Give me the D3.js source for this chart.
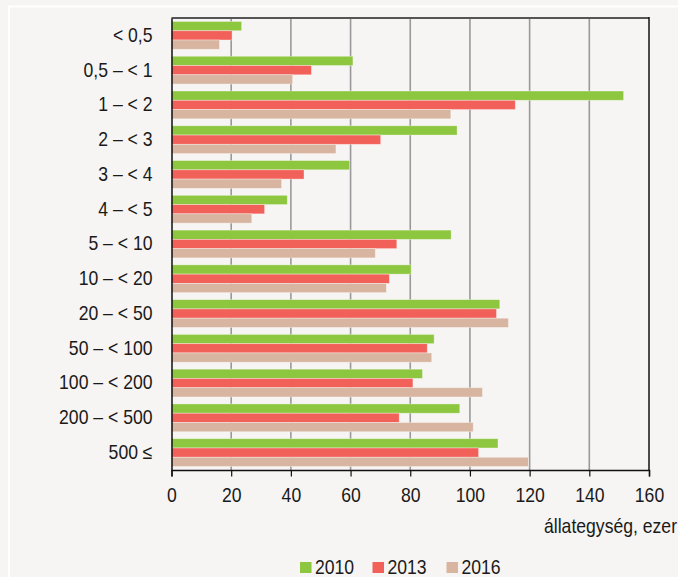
<!DOCTYPE html>
<html>
<head>
<meta charset="utf-8">
<script src="https://cdn.jsdelivr.net/npm/d3@7"></script>
<style>
  body { margin: 0; background: #f6f5f3; }
  svg { display: block; }
  text { font-family: "Liberation Sans", Arial, sans-serif; fill: #1a1a1a; }
</style>
</head>
<body>
<div id="chart"></div>
<script>
const width = 678,
    height = 577,
    margin = { top: 18, right: 29, bottom: 107, left: 171.5 },
    squeeze = 0.88; // keskeny betű utánzása

// adatok
const categories = ["< 0,5", "0,5 – < 1", "1 – < 2", "2 – < 3", "3 – < 4", "4 – < 5", "5 – < 10",
    "10 – < 20", "20 – < 50", "50 – < 100", "100 – < 200", "200 – < 500", "500 ≤"];
const years = ["2010", "2013", "2016"];
const values2010 = [23.5, 60.8, 151.5, 95.7, 59.7, 38.8, 93.7, 80.3, 110.0, 88.0, 84.1, 96.6, 109.4];
const values2013 = [20.3, 46.9, 115.2, 70.1, 44.4, 31.2, 75.5, 73.0, 108.9, 85.7, 80.9, 76.3, 102.9];
const values2016 = [16.1, 40.6, 93.6, 55.1, 36.9, 26.9, 68.3, 72.0, 112.9, 87.2, 104.2, 101.1, 119.6];
const xTicks = [0, 20, 40, 60, 80, 100, 120, 140, 160];
const colors = ["#8dc63f", "#f26159", "#d7b5a0"];

const series = [values2010, values2013, values2016];

const svg = d3.select("#chart")
    .append("svg")
    .attr("width", width)
    .attr("height", height);

// keret
svg.append("rect")
    .attr("x", 0).attr("y", 0)
    .attr("width", width).attr("height", height)
    .style("fill", "#f6f5f3");
svg.append("line")
    .attr("x1", 8).attr("x2", width).attr("y1", 6.5).attr("y2", 6.5)
    .style("stroke", "#fff").style("stroke-width", 2);
svg.append("line")
    .attr("x1", 9).attr("x2", 9).attr("y1", 6).attr("y2", height)
    .style("stroke", "#fff").style("stroke-width", 2);

const x = d3.scaleLinear()
    .domain([0, 160])
    .range([margin.left, width - margin.right]);

const y = d3.scaleBand()
    .domain(categories)
    .range([margin.top, height - margin.bottom])
    .paddingInner(0.2)
    .paddingOuter(0.1);

const y1 = d3.scaleBand()
    .domain(years)
    .range([0, y.bandwidth()]);

// rácsvonalak
svg.append("g")
    .selectAll("line")
    .data(xTicks.slice(1, -1))
    .enter()
    .append("line")
    .attr("x1", d => x(d)).attr("x2", d => x(d))
    .attr("y1", margin.top).attr("y2", height - margin.bottom)
    .style("stroke", "#99989b")
    .style("stroke-width", 1.6);

// oszlopok
const groups = svg.append("g")
    .selectAll("g")
    .data(categories)
    .enter()
    .append("g")
    .attr("transform", d => "translate(0," + y(d) + ")");

groups.selectAll("rect")
    .data((d, i) => years.map((yr, j) => ({ year: yr, value: series[j][i], color: colors[j] })))
    .enter()
    .append("rect")
    .attr("x", x(0))
    .attr("y", d => y1(d.year))
    .attr("width", d => x(d.value) - x(0))
    .attr("height", y1.bandwidth())
    .style("fill", d => d.color)
    .style("stroke", "rgba(255,255,255,0.45)")
    .style("stroke-width", 0.8);

// felső és jobb keret
svg.append("line")
    .attr("x1", x(0)).attr("x2", x(160))
    .attr("y1", margin.top).attr("y2", margin.top)
    .style("stroke", "#555").style("stroke-width", 2);
svg.append("line")
    .attr("x1", x(160)).attr("x2", x(160))
    .attr("y1", margin.top - 1).attr("y2", height - margin.bottom)
    .style("stroke", "#111").style("stroke-width", 1.5);

// tengelyek
const xAxis = svg.append("g")
    .attr("transform", "translate(0," + (height - margin.bottom) + ")")
    .call(d3.axisBottom(x).tickValues(xTicks).tickSize(6.5).tickPadding(11.5));
xAxis.select(".domain").style("stroke", "#111").style("stroke-width", 1.5);
xAxis.selectAll(".tick line").style("stroke", "#111").style("stroke-width", 1.2);
xAxis.selectAll("text")
    .style("font-size", "20px").style("fill", "#1a1a1a")
    .attr("transform", "scale(" + squeeze + ",1)");

const yAxis = svg.append("g")
    .attr("transform", "translate(" + margin.left + ",0)")
    .call(d3.axisLeft(y).tickSize(0).tickPadding(19));
yAxis.select(".domain").style("stroke", "#111").style("stroke-width", 1.5);
yAxis.selectAll("text")
    .style("font-size", "20px").style("fill", "#1a1a1a")
    .attr("x", -19 / squeeze)
    .attr("transform", "scale(" + squeeze + ",1)");

// tengelycím
svg.append("g")
    .attr("transform", "translate(677,533) scale(" + squeeze + ",1)")
    .append("text")
    .attr("text-anchor", "end")
    .style("font-size", "20px")
    .text("állategység, ezer");

// jelmagyarázat
const legend = svg.append("g")
    .selectAll("g")
    .data(years)
    .enter()
    .append("g")
    .attr("transform", (d, i) => "translate(" + [300, 372.5, 446.5][i] + ",562)");
legend.append("rect")
    .attr("width", 11.5).attr("height", 11)
    .style("fill", (d, i) => colors[i]);
legend.append("text")
    .attr("transform", "translate(15,11.5) scale(" + squeeze + ",1)")
    .style("font-size", "20px")
    .text(d => d);
</script>
</body>
</html>
